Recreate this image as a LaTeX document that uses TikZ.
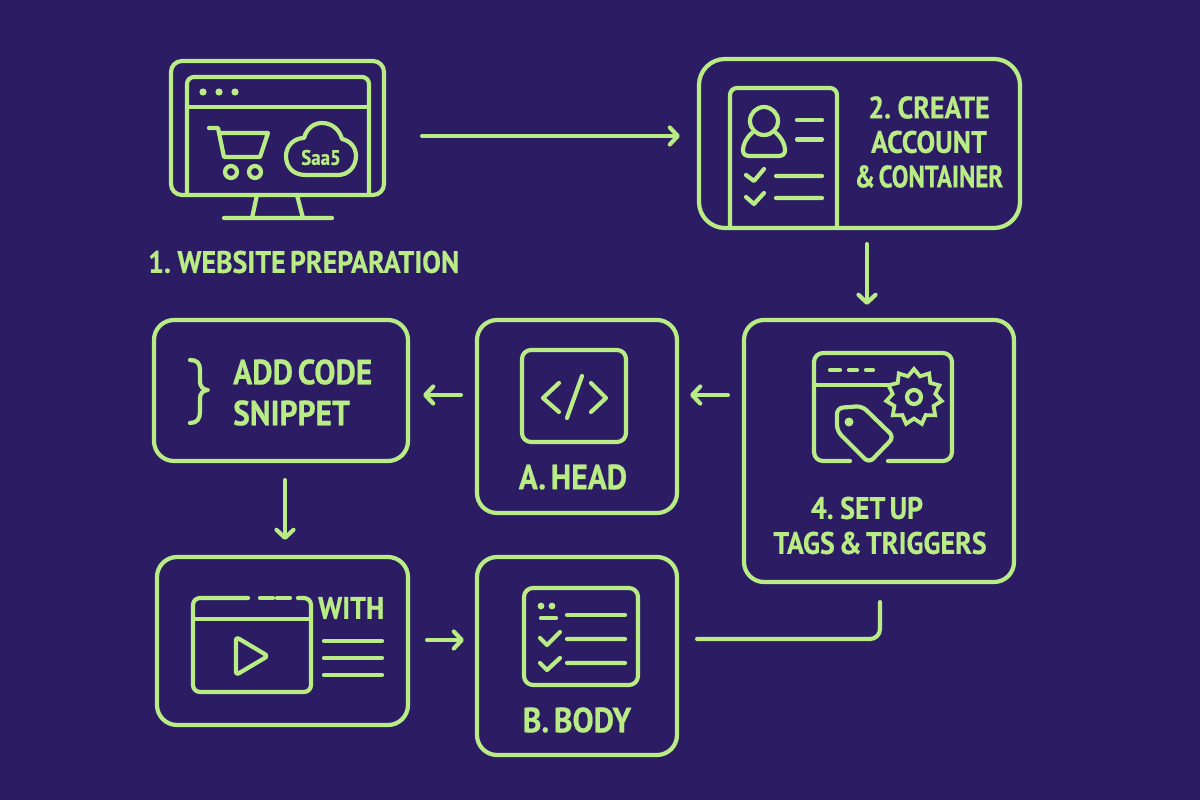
\documentclass[tikz,border=0pt]{standalone}
\usepackage{fontspec}
\setmainfont{PT Sans}[FakeStretch=0.9,WordSpace=0.6,BoldFeatures={FakeBold=0.6}]
\usetikzlibrary{arrows.meta,shapes.geometric}
\definecolor{bgpurple}{HTML}{2C1C64}
\definecolor{limeline}{HTML}{B9EC84}
\tikzset{
  stepbox/.style={draw=limeline, line width=4.2pt, rounded corners=20pt, inner sep=0pt},
  icon/.style={draw=limeline, line width=4.2pt, line cap=round, line join=round},
  flow/.style={icon, -{Straight Barb[length=8pt,width=17pt,round]}},
  lbl/.style={text=limeline, inner sep=0pt, font=\bfseries\fontsize{31}{34.5}\selectfont},
  biglbl/.style={lbl, font=\bfseries\fontsize{35}{36}\selectfont}
}
\begin{document}
\begin{tikzpicture}[x=1pt,y=-1pt]
\useasboundingbox[fill=bgpurple] (0,0) rectangle (1200,800);

% boxes
\node[stepbox, minimum width=213pt, minimum height=134pt, rounded corners=11pt] (screen) at (277.5,128) {};
\node[stepbox, minimum width=321pt, minimum height=169pt, rounded corners=26pt] (account) at (859.5,143.5) {};
\node[stepbox, minimum width=270pt, minimum height=262pt] (tags) at (879,451) {};
\node[stepbox, minimum width=200pt, minimum height=193pt] (head) at (577,416.5) {};
\node[stepbox, minimum width=254pt, minimum height=141pt] (snippet) at (281,390.5) {};
\node[stepbox, minimum width=251pt, minimum height=168pt] (with) at (282.5,641) {};
\node[stepbox, minimum width=200pt, minimum height=198pt] (body) at (577,656) {};

% connectors
\draw[flow] ([shift={(36,8)}]screen.east) -- ([shift={(-17,-7.5)}]account.west);
\draw[flow] ([shift={(7.5,14)}]account.south) -- ([shift={(-12,-13)}]tags.north);
\draw[flow] ([shift={(-14,-56)}]tags.west) -- ([shift={(11,-21.5)}]head.east);
\draw[flow] ([shift={(-14,-21.5)}]head.west) -- ([shift={(13,4.5)}]snippet.east);
\draw[flow] ([shift={(4,17)}]snippet.south) -- ([shift={(2.5,-15)}]with.north);
\draw[flow] ([shift={(17,-1)}]with.east) -- ([shift={(-11,-16)}]body.west);
\draw[icon, rounded corners=10pt] ([shift={(1,18)}]tags.south) |- ([shift={(18,-17)}]body.east);

% monitor
\draw[icon, rounded corners=7pt] (187,195) -- (187,77) -- (369,77) -- (369,195);
\draw[icon] (187,107) -- (369,107);
\foreach \x in {203,219,235}
  \fill[limeline] (\x,92) circle (3.6pt);
\draw[icon] (257,195) -- (252,218) (297,195) -- (303,218) (224,218) -- (332,218);
% cart
\draw[icon] (209,128) -- (218,128) -- (224,157) -- (260,157) -- (268,133) -- (219,133);
\draw[icon] (231,172) circle (6pt) (255,172) circle (6pt);
% cloud
\draw[icon] (306,175) .. controls (292,175) and (286,166) .. (286,156)
  .. controls (286,146) and (294,138) .. (304,138)
  .. controls (307,128) and (314,123) .. (322,123)
  .. controls (333,123) and (340,131) .. (342,139)
  .. controls (351,141) and (356,148) .. (356,156)
  .. controls (356,167) and (348,175) .. (338,175) -- cycle;
\node[text=limeline, inner sep=0pt, font=\bfseries\fontsize{21}{21}\selectfont] (saas) at (321,157.5) {Saa5};
\node[lbl, anchor=west] (prep) at (148,262) {1. WEBSITE PREPARATION};

% account icon
\draw[icon, rounded corners=7pt] (730,226) -- (730,88) -- (837,88) -- (837,226);
\draw[icon] (764,121) circle (14pt);
\draw[icon] (752,133) .. controls (746,138) and (743,145) .. (743,150)
  .. controls (743,154) and (745,156) .. (750,156) -- (778,156)
  .. controls (783,156) and (785,154) .. (785,150)
  .. controls (785,145) and (782,138) .. (776,133);
\draw[icon] (797,120) -- (822,120) (797,139.5) -- (822,139.5);
\draw[icon] (746,175) -- (754,181) -- (764,169) (776,176) -- (822,176);
\draw[icon] (746,197) -- (754,204) -- (764,193) (776,198) -- (822,198);
\node[lbl, align=center] (accountlbl) at (929,142) {2. CREATE\\ACCOUNT\\\scalebox{0.89}[1]{\& CONTAINER}};

% tags icon
\draw[icon, rounded corners=9pt] (850,461) -- (814,461) -- (814,353) -- (952,353) -- (952,461) -- (888,461);
\draw[icon] (814,385) -- (892,385);
\draw[icon] (830,370) -- (840,370) (849,370) -- (857,370) (866,370) -- (873,370);
\node[star, star points=11, star point ratio=1.3, minimum size=56pt, inner sep=0pt, draw=limeline, line width=3.8pt, fill=bgpurple] (gear) at (914,397) {};
\draw[icon] (914,397) circle (7pt);
\draw[icon, rounded corners=6pt] (837,408) -- (862,406) -- (894,437) -- (869,463) -- (837,431) -- cycle;
\fill[limeline] (849,422) circle (4.5pt);
\node[lbl] (setup) at (867,508) {4. SET UP};
\node[lbl] (triggers) at (880,543) {TAGS \& TRIGGERS};

% head icon
\draw[icon, rounded corners=9pt] (522,350) rectangle (626,442);
\draw[icon] (559,383) -- (543,398) -- (559,412) (591,383) -- (606,398) -- (591,412) (582,376) -- (567,418);
\node[biglbl] (headlbl) at (573,477) {A. HEAD};

% snippet
\draw[icon] (190,360) .. controls (197,360) and (200,363) .. (200,370) -- (200,382)
  .. controls (200,386) and (203,390) .. (208,390)
  .. controls (203,390) and (200,394) .. (200,398) -- (200,412)
  .. controls (200,419) and (197,423) .. (190,423);
\node[biglbl, anchor=west] (addcode) at (233,372) {ADD CODE};
\node[biglbl, anchor=west] (snip) at (233,413) {SNIPPET};

% video window
\draw[icon, rounded corners=7pt] (248,598) -- (193,598) -- (193,692) -- (311,692) -- (311,598) -- (298,598);
\draw[icon] (260,598) -- (273,598) (277,598) -- (290,598) (193,619) -- (311,619);
\draw[icon, rounded corners=3pt] (236,637) -- (268,656) -- (236,675) -- cycle;
\node[lbl, anchor=west] (withlbl) at (318,608) {WITH};
\draw[icon] (324,641) -- (382,641) (324,658) -- (382,658) (324,675) -- (382,675);

% body icon
\draw[icon, rounded corners=9pt] (524,588) rectangle (638,685);
\fill[limeline] (541,606) circle (3.4pt) (552,606) circle (3.4pt);
\draw[icon] (541,618) -- (556,618) (567,615) -- (625,615);
\draw[icon] (540,638) -- (547,645) -- (560,632) (567,639) -- (625,639);
\draw[icon] (540,663) -- (547,670) -- (560,658) (567,663) -- (625,663);
\node[biglbl] (bodylbl) at (577,720) {B. BODY};
\end{tikzpicture}
\end{document}
